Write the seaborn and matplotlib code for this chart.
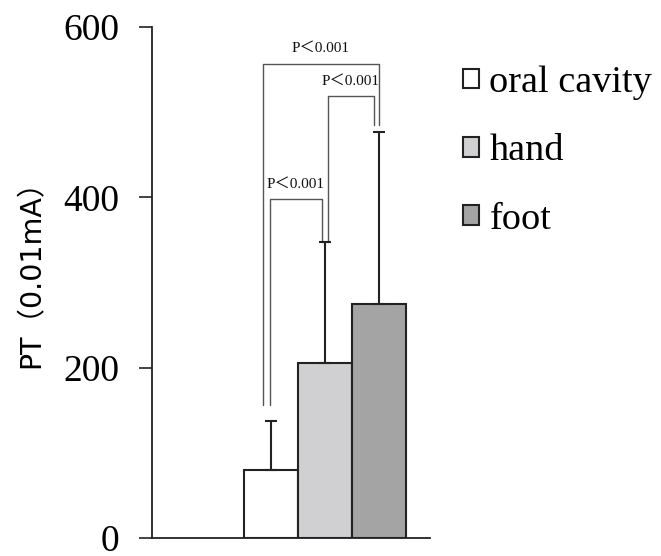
import matplotlib
matplotlib.use("Agg")
import matplotlib.pyplot as plt
import seaborn as sns
import pandas as pd
import numpy as np

sites = ["oral cavity", "hand", "foot"]
means = [80, 205, 275]
sds = [57, 142, 202]
colors = ["#ffffff", "#d0cfd1", "#a4a4a4"]
yticks = [0, 200, 400, 600]
ylabel = "PT（0.01mA）"
p_label = "P＜0.001"
# comparisons: (i, j, bracket height, leg bottom i, leg bottom j)
comparisons = [(0, 1, 398, 156, 347), (1, 2, 519, 347, 485), (0, 2, 557, 156, 485)]

sns.set_theme(style="white")
plt.rcParams["font.family"] = ["Liberation Serif", "Noto Sans CJK SC"]
plt.rcParams["text.color"] = "black"
plt.rcParams["ytick.color"] = "black"
plt.rcParams["axes.labelcolor"] = "black"

df = pd.DataFrame({"group": [""] * 3, "site": sites, "value": means})

fig = plt.figure(figsize=(6.61, 5.56), dpi=100)
ax = fig.add_axes([0.23, 0.0324, 0.4205, 0.919])

sns.barplot(data=df, x="group", y="value", hue="site", hue_order=sites,
            palette=colors, edgecolor="#222222", linewidth=1.5, width=0.8,
            errorbar=None, ax=ax, legend=True)

centers = [p.get_x() + p.get_width() / 2 for p in ax.patches[:3]]
ax.errorbar(centers, means, yerr=[[0] * 3, sds], fmt="none", ecolor="#222222",
            elinewidth=1.5, capsize=4, capthick=1.5, zorder=3)

offs = {(0, 1): (-0.005, -0.015), (1, 2): (0.015, -0.025), (0, 2): (-0.04, 0.0)}
for i, j, h, bi, bj in comparisons:
    di, dj = offs[(i, j)]
    x1, x2 = centers[i] + di, centers[j] + dj
    ax.plot([x1, x1, x2, x2], [bi, h, h, bj], color="#555555", lw=1.0, zorder=2)
    ax.text((x1 + x2) / 2, h + 10, p_label, ha="center", va="bottom", fontsize=11,
            color="#111111")

ax.set_ylim(0, 600)
ax.set_xlim(-0.854, 0.52)
ax.set_yticks(yticks)
ax.set_yticklabels([str(t) for t in yticks], fontsize=27)
ax.set_xticks([])
ax.set_xlabel("")
ax.set_ylabel(ylabel, fontsize=20.5, family=["DejaVu Sans", "Noto Sans CJK SC"])
ax.yaxis.set_label_coords(-0.385, 0.531)
ax.tick_params(axis="y", direction="out", length=9.5, width=1.2, color="#222222", pad=14, left=True)
for s in ["top", "right"]:
    ax.spines[s].set_visible(False)
for s in ["left", "bottom"]:
    ax.spines[s].set_color("#222222")
    ax.spines[s].set_linewidth(1.3)

handles, labels = ax.get_legend_handles_labels()
ax.legend(handles, labels, loc="upper left", bbox_to_anchor=(0.700, 0.882),
          bbox_transform=fig.transFigure, frameon=False, fontsize=27.5,
          handlelength=0.42, handleheight=0.42, handletextpad=0.28,
          labelspacing=0.885, borderpad=0, borderaxespad=0)

fig.savefig("out.png", dpi=100)
